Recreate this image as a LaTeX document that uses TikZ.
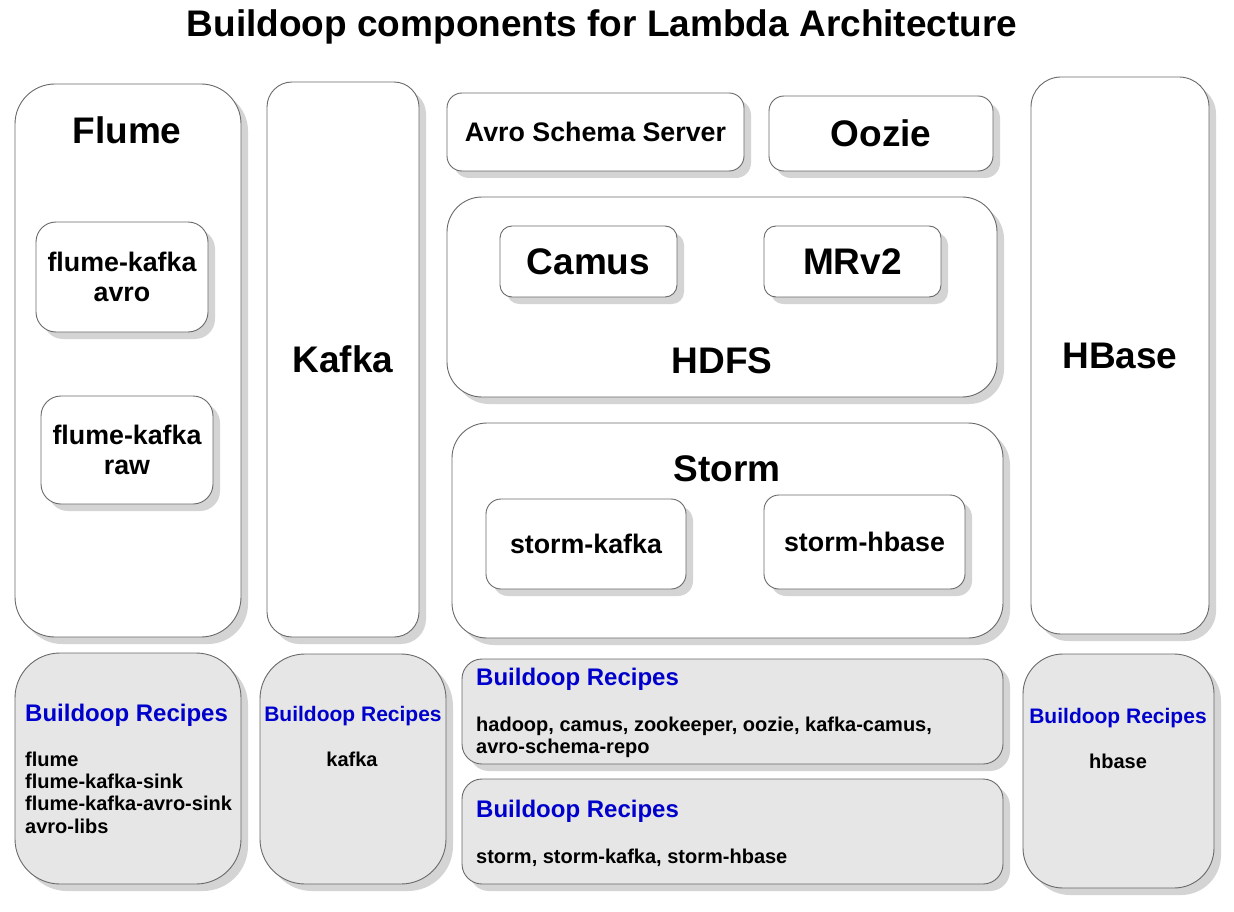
\documentclass[tikz,border=0pt]{standalone}
\usepackage{fontspec}
\setmainfont{Liberation Sans}
\usetikzlibrary{shadows}

\definecolor{recipeblue}{RGB}{0,0,204}
\definecolor{recipegray}{RGB}{230,230,230}
\definecolor{shadowgray}{RGB}{212,212,212}
\definecolor{edgegray}{RGB}{105,105,105}

\tikzset{
  box/.style={draw=edgegray, line width=0.9pt, fill=white, inner sep=0pt,
    align=center, drop shadow={shadow xshift=7pt, shadow yshift=-7pt,
    fill=shadowgray, opacity=1}},
  recipe/.style={box, fill=recipegray},
  bigtext/.style={font=\fontsize{37}{41}\selectfont\bfseries},
  midtext/.style={font=\fontsize{26.8}{30}\selectfont\bfseries},
  headtext/.style={inner sep=0pt, text=recipeblue, font=\fontsize{24}{28}\selectfont\bfseries},
  smallhead/.style={headtext, font=\fontsize{21}{25}\selectfont\bfseries},
  listtext/.style={inner sep=0pt, align=left, font=\fontsize{20}{22.3}\selectfont\bfseries},
}

\begin{document}
\begin{tikzpicture}[x=1pt, y=-1pt]
  \useasboundingbox[fill=white] (0,0) rectangle (1234,912);

  %%%%% title %%%%%
  \node[inner sep=0pt, anchor=base, font=\fontsize{37}{42}\selectfont\bfseries] (title) at (602,37) {Buildoop components for Lambda Architecture};

  %%%%% flume %%%%%
  \node[box, minimum width=226pt, minimum height=553pt, rounded corners=40pt] (flume) at (128,360.5) {};
  \node[bigtext, inner sep=0pt, anchor=base] (flumelabel) at (127,144) {Flume};
  \node[box, midtext, minimum width=172pt, minimum height=110pt, rounded corners=20pt] (fkavro) at (122,277) {flume-kafka\\avro};
  \node[box, midtext, minimum width=172pt, minimum height=108pt, rounded corners=20pt] (fkraw) at (127,450) {flume-kafka\\raw};

  %%%%% kafka %%%%%
  \node[box, bigtext, minimum width=152pt, minimum height=555pt, rounded corners=25pt] (kafka) at (343,359.5) {Kafka};

  %%%%% middle column %%%%%
  \node[box, midtext, minimum width=297pt, minimum height=78pt, rounded corners=15pt] (avross) at (595.5,132) {Avro Schema Server};
  \node[box, bigtext, minimum width=224pt, minimum height=75pt, rounded corners=15pt] (oozie) at (881,133.5) {Oozie};

  \node[box, minimum width=550pt, minimum height=200pt, rounded corners=35pt] (hdfs) at (722,297) {};
  \node[bigtext, inner sep=0pt, anchor=base] (hdfslabel) at (722,373) {HDFS};
  \node[box, bigtext, minimum width=177pt, minimum height=71pt, rounded corners=12pt] (camus) at (588.5,261.5) {Camus};
  \node[box, bigtext, minimum width=177pt, minimum height=71pt, rounded corners=12pt] (mrv2) at (852.5,261.5) {MRv2};

  \node[box, minimum width=551pt, minimum height=215pt, rounded corners=35pt] (storm) at (727.5,530.5) {};
  \node[bigtext, inner sep=0pt, anchor=base] (stormlabel) at (727,481) {Storm};
  \node[box, midtext, minimum width=200pt, minimum height=90pt, rounded corners=15pt] (stkafka) at (586,544) {storm-kafka};
  \node[box, midtext, minimum width=201pt, minimum height=94pt, rounded corners=15pt] (sthbase) at (864.5,542) {storm-hbase};

  %%%%% hbase %%%%%
  \node[box, bigtext, minimum width=178pt, minimum height=557pt, rounded corners=30pt] (hbase) at (1120,355.5) {HBase};

  %%%%% recipes %%%%%
  \node[recipe, minimum width=226pt, minimum height=231pt, rounded corners=45pt] (rflume) at (128,768.5) {};
  \node[headtext, anchor=base west] (rflumehead) at (25,721.6) {Buildoop Recipes};
  \node[listtext, anchor=north west] (rflumelist) at (25,751.6) {flume\\flume-kafka-sink\\flume-kafka-avro-sink\\avro-libs};

  \node[recipe, minimum width=186pt, minimum height=230pt, rounded corners=45pt] (rkafka) at (353,769) {};
  \node[smallhead, anchor=base] (rkafkahead) at (353,721.5) {Buildoop Recipes};
  \node[listtext, anchor=base] (rkafkalist) at (352,766) {kafka};

  \node[recipe, minimum width=541pt, minimum height=105pt, rounded corners=20pt] (rhdfs) at (732.5,711.5) {};
  \node[headtext, anchor=base west] (rhdfshead) at (476,685.6) {Buildoop Recipes};
  \node[listtext, anchor=north west] (rhdfslist) at (476,716.6) {hadoop, camus, zookeeper, oozie, kafka-camus,\\avro-schema-repo};

  \node[recipe, minimum width=541pt, minimum height=105pt, rounded corners=20pt] (rstorm) at (732.5,831.5) {};
  \node[headtext, anchor=base west] (rstormhead) at (476,817.6) {Buildoop Recipes};
  \node[listtext, anchor=base west] (rstormlist) at (476,863) {storm, storm-kafka, storm-hbase};

  \node[recipe, minimum width=191pt, minimum height=234pt, rounded corners=40pt] (rhbase) at (1118.5,771) {};
  \node[smallhead, anchor=base] (rhbasehead) at (1118,723.5) {Buildoop Recipes};
  \node[listtext, anchor=base] (rhbaselist) at (1118,768) {hbase};
\end{tikzpicture}
\end{document}
